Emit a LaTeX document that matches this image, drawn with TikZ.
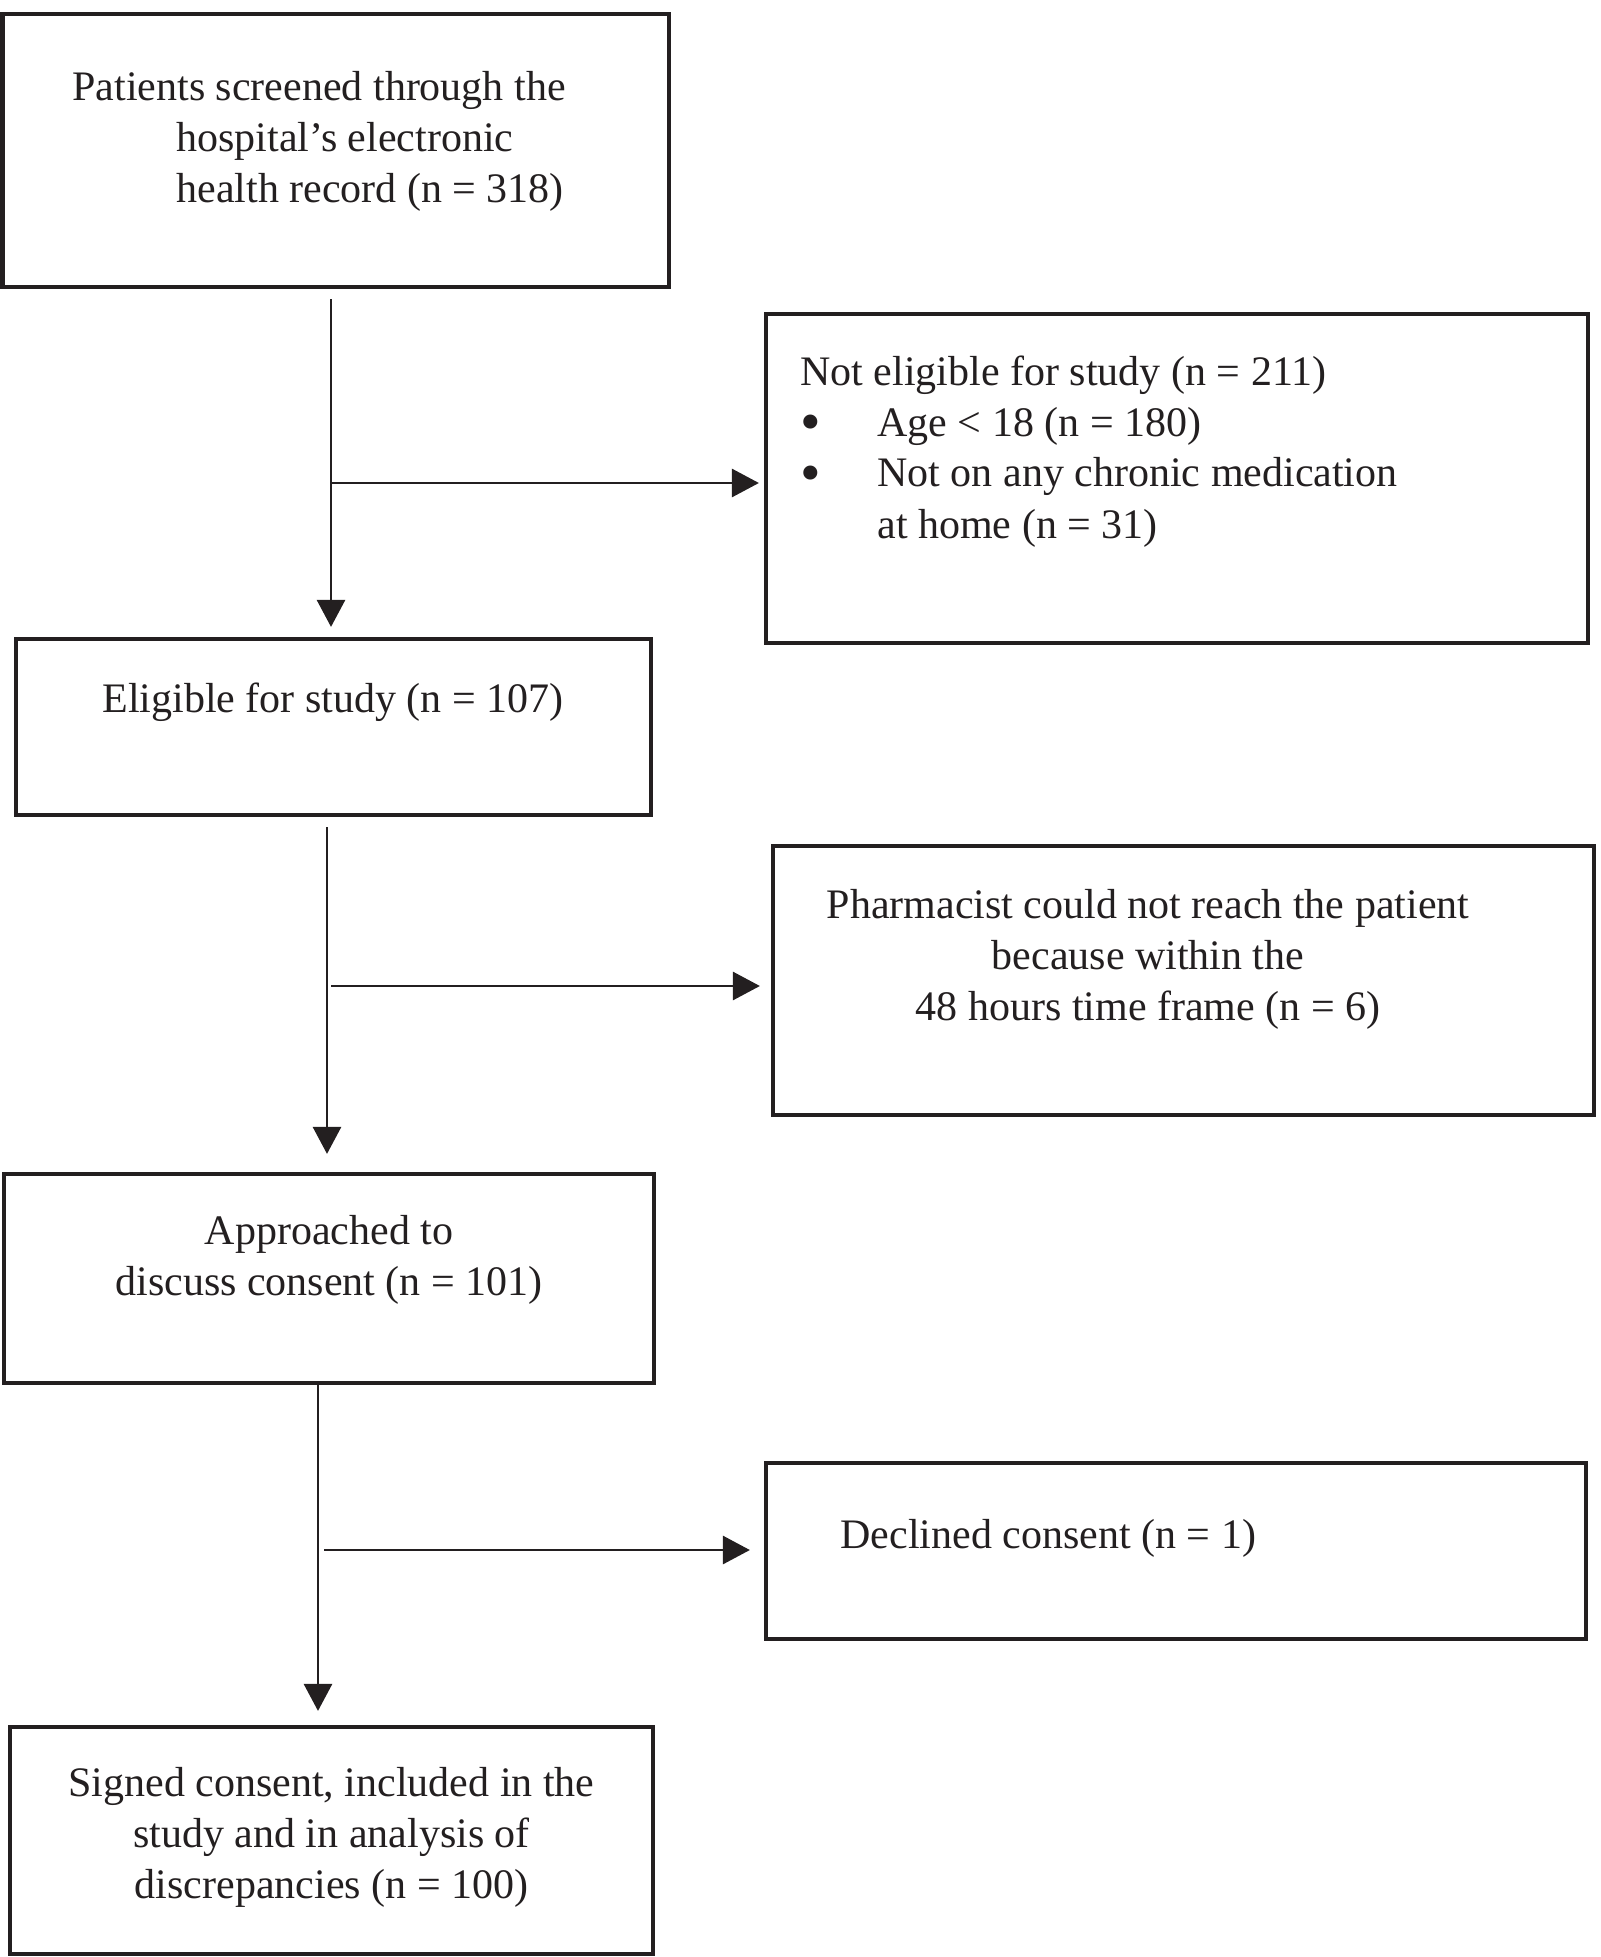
\documentclass[tikz,border=0pt]{standalone}
\usepackage{fontspec}
\setmainfont{Liberation Serif}
\usetikzlibrary{arrows.meta}
\definecolor{ink}{HTML}{231F20}
\newcommand{\bigbullet}{\makebox[38.5pt][l]{\raisebox{-3pt}{\scalebox{1.4}{\textbullet}}}}

\begin{document}
\begin{tikzpicture}[
  x=0.5pt, y=-0.5pt,
  font=\fontsize{21pt}{25.5pt}\selectfont,
  box/.style={draw=ink,line width=2.1pt,inner sep=0pt},
  txt/.style={inner sep=0pt,text=ink},
  to/.style={-{Triangle[length=13.5pt,width=14pt]},draw=ink,line width=1.4pt}]

  \useasboundingbox (0,0) rectangle (1600,1957);

  % Position the boxes
  \node[box,minimum width=333.25pt,minimum height=136.5pt] (screened) at (335.75,150.5) {};
  \node[box,minimum width=411pt,minimum height=164.5pt] (noteligible) at (1177,478.5) {};
  \node[box,minimum width=317.5pt,minimum height=88pt] (eligible) at (333.5,727) {};
  \node[box,minimum width=410.5pt,minimum height=134.5pt] (pharmacist) at (1183.5,980.5) {};
  \node[box,minimum width=325pt,minimum height=104.5pt] (approached) at (329,1278.5) {};
  \node[box,minimum width=410pt,minimum height=88pt] (declined) at (1176,1551) {};
  \node[box,minimum width=321.5pt,minimum height=113.5pt] (signed) at (331.5,1840.5) {};

  % Texts of the boxes (base = last line)
  \node[txt,align=left,anchor=base west] (screenedtext) at (72,203)
    {Patients screened through the\\\hspace*{52pt}hospital's electronic\\\hspace*{52pt}health record (n = 318)};
  \node[txt,align=left,anchor=base west] (noteligibletext) at (800,538)
    {Not eligible for study (n = 211)\\
     \bigbullet Age < 18 (n = 180)\\
     \bigbullet Not on any chronic medication\\
     \hspace*{38.5pt}at home (n = 31)};
  \node[txt,anchor=base] (eligibletext) at (333,712) {Eligible for study (n = 107)};
  \node[txt,align=center,anchor=base] (pharmacisttext) at (1148,1020)
    {Pharmacist could not reach the patient\\because within the\\48 hours time frame (n = 6)};
  \node[txt,align=center,anchor=base] (approachedtext) at (329,1295)
    {Approached to\\discuss consent (n = 101)};
  \node[txt,anchor=base west] (declinedtext) at (840,1548) {Declined consent (n = 1)};
  \node[txt,align=center,anchor=base] (signedtext) at (331.5,1898)
    {Signed consent, included in the\\study and in analysis of\\discrepancies (n = 100)};

  % Branch points of the arrows
  \coordinate (j1) at (331,483);
  \coordinate (j2) at (327,986);
  \coordinate (j3) at (318,1550);

  % Draw the arrows between the boxes
  \draw[to,shorten <=5pt,shorten >=5pt] (screened.south -| j1) -- (eligible.north -| j1);
  \draw[to,shorten >=2.5pt] (j1) -- (j1 -| noteligible.west);
  \draw[to,shorten <=5pt,shorten >=9pt] (eligible.south -| j2) -- (approached.north -| j2);
  \draw[to,shorten <=2pt,shorten >=5.5pt] (j2) -- (j2 -| pharmacist.west);
  \draw[to,shorten >=7pt] (approached.south -| j3) -- (signed.north -| j3);
  \draw[to,shorten <=3pt,shorten >=7pt] (j3) -- (j3 -| declined.west);
\end{tikzpicture}
\end{document}
